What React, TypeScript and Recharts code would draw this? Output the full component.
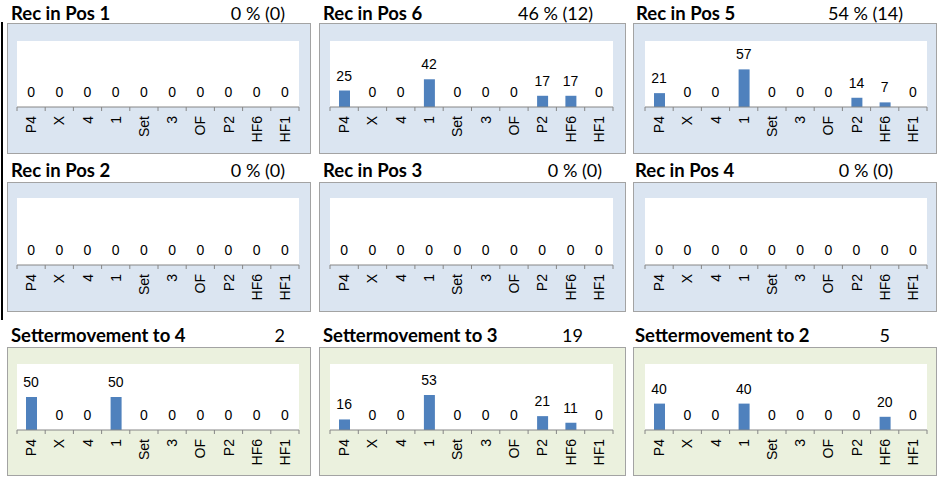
import React from "react";
import { ComposedChart, Bar, Line, XAxis, YAxis, CartesianGrid, LabelList } from "recharts";

const categories = ["P4", "X", "4", "1", "Set", "3", "OF", "P2", "HF6", "HF1"];

const recInPos1 = [0, 0, 0, 0, 0, 0, 0, 0, 0, 0];
const recInPos6 = [25, 0, 0, 42, 0, 0, 0, 17, 17, 0];
const recInPos5 = [21, 0, 0, 57, 0, 0, 0, 14, 7, 0];
const recInPos2 = [0, 0, 0, 0, 0, 0, 0, 0, 0, 0];
const recInPos3 = [0, 0, 0, 0, 0, 0, 0, 0, 0, 0];
const recInPos4 = [0, 0, 0, 0, 0, 0, 0, 0, 0, 0];
const setterTo4 = [50, 0, 0, 50, 0, 0, 0, 0, 0, 0];
const setterTo3 = [16, 0, 0, 53, 0, 0, 0, 21, 11, 0];
const setterTo2 = [40, 0, 0, 40, 0, 0, 0, 0, 20, 0];

const panelTitles = [
  "Rec in Pos 1", "Rec in Pos 6", "Rec in Pos 5",
  "Rec in Pos 2", "Rec in Pos 3", "Rec in Pos 4",
  "Settermovement to 4", "Settermovement to 3", "Settermovement to 2",
];
const panelCounts = [
  "0 % (0)", "46 % (12)", "54 % (14)",
  "0 % (0)", "0 % (0)", "0 % (0)",
  "2", "19", "5",
];
const panelSeries = [
  recInPos1, recInPos6, recInPos5,
  recInPos2, recInPos3, recInPos4,
  setterTo4, setterTo3, setterTo2,
];

// layout (pixels)
const colBox = [[7, 311], [319, 626], [633, 937]];
const colPlot = [[17, 299], [330, 613], [645, 927]];
const rowBox = [[23, 154], [182, 312], [347, 476]];
const rowPlot = [[41, 107], [198, 265], [364, 430]];
const rowTitleY = [20, 177, 342];
const titleX = [[11, 323, 636], [11, 323, 635], [11, 323, 635]];
const countRight = [[285, 593, 903], [285, 602, 893], [285, 583, 890]];
const rowBg = ["#dbe5f1", "#dbe5f1", "#ebf1de"];

const AXIS_GRAY = "#868686";
const LABEL_FONT = "'Liberation Sans', Arial, sans-serif";

const makeTick = (band: number) => (props: any) => {
  const { x, y, payload, index } = props;
  const half = band / 2;
  return (
    <g>
      <line x1={x - half} x2={x - half} y1={y} y2={y + 4} stroke={AXIS_GRAY} strokeWidth={1} />
      {index === categories.length - 1 && (
        <line x1={x + half} x2={x + half} y1={y} y2={y + 4} stroke={AXIS_GRAY} strokeWidth={1} />
      )}
      <text
        transform={`translate(${x},${y + 9}) rotate(-90)`}
        textAnchor="end"
        dy="0.36em"
        fontSize={14}
        fontFamily={LABEL_FONT}
        fill="#000"
      >
        {payload.value}
      </text>
    </g>
  );
};

function Panel({ idx }: { idx: number }) {
  const r = Math.floor(idx / 3);
  const c = idx % 3;
  const [bx0, bx1] = colBox[c];
  const [by0, by1] = rowBox[r];
  const [px0, px1] = colPlot[c];
  const [py0, axisY] = rowPlot[r];
  const w = bx1 - bx0;
  const h = by1 - by0;
  const band = (px1 - px0) / categories.length;
  const data = categories.map((cat, i) => ({ cat, value: panelSeries[idx][i] }));
  return (
    <>
      <div
        style={{
          position: "absolute",
          left: bx0,
          top: by0,
          width: w,
          height: h,
          boxSizing: "border-box",
          background: rowBg[r],
          border: "1.5px solid #a3a3a3",
        }}
      />
      <div style={{ position: "absolute", left: bx0, top: by0 }}>
        <ComposedChart
          width={w}
          height={h}
          data={data}
          margin={{ top: py0 - by0, left: px0 - bx0, right: bx1 - px1, bottom: 0 }}
          barCategoryGap={0}
        >
          <CartesianGrid fill="#ffffff" horizontal={false} vertical={false} stroke="none" />
          <XAxis
            dataKey="cat"
            height={by1 - axisY}
            interval={0}
            tickLine={false}
            tickSize={0}
            tickMargin={0}
            axisLine={{ stroke: AXIS_GRAY, strokeWidth: 1 }}
            tick={makeTick(band)}
          />
          <YAxis hide domain={[0, 100]} />
          <Bar dataKey="value" fill="#4f81bd" barSize={11} isAnimationActive={false} />
          <Line
            dataKey="value"
            stroke="none"
            dot={false}
            activeDot={false}
            legendType="none"
            isAnimationActive={false}
          >
            <LabelList
              dataKey="value"
              position="top"
              offset={10}
              fontSize={14}
              fontFamily={LABEL_FONT}
              fill="#000"
            />
          </Line>
        </ComposedChart>
      </div>
    </>
  );
}

export default function App() {
  const idxs = [0, 1, 2, 3, 4, 5, 6, 7, 8];
  return (
    <div style={{ position: "absolute", left: 0, top: 0, width: 939, height: 477, background: "#fff", overflow: "hidden" }}>
      <div style={{ position: "absolute", left: 1, top: 22, width: 2, height: 298, background: "#000" }} />
      {idxs.map((i) => (
        <Panel key={i} idx={i} />
      ))}
      <svg width={939} height={477} style={{ position: "absolute", left: 0, top: 0, pointerEvents: "none" }}>
        {idxs.map((i) => {
          const r = Math.floor(i / 3);
          const c = i % 3;
          return (
            <g key={i}>
              <text
                x={titleX[r][c]}
                y={rowTitleY[r]}
                fontFamily="Lato, sans-serif"
                fontWeight={700}
                fontSize={18.5}
                fill="#000"
              >
                {panelTitles[i]}
              </text>
              <text
                x={countRight[r][c]}
                y={rowTitleY[r]}
                textAnchor="end"
                fontFamily="Lato, sans-serif"
                fontSize={18}
                fill="#000"
              >
                {panelCounts[i]}
              </text>
            </g>
          );
        })}
      </svg>
    </div>
  );
}
